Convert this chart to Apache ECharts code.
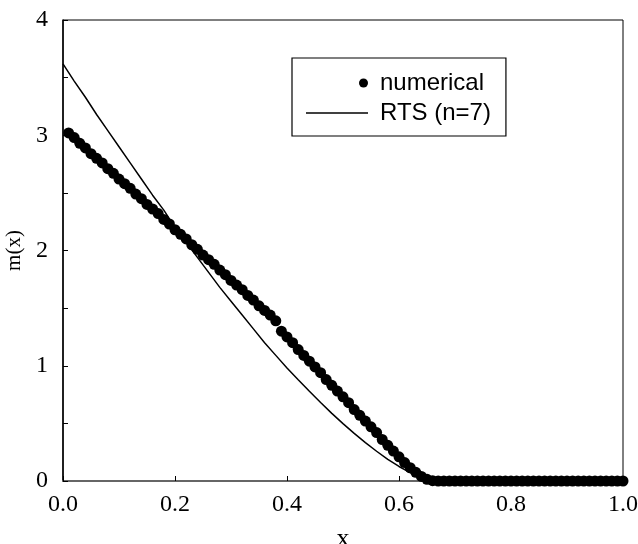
<!DOCTYPE html>
<html>
<head>
<meta charset="utf-8">
<script src="https://cdn.jsdelivr.net/npm/echarts@6/dist/echarts.min.js"></script>
<style>html,body{margin:0;padding:0;background:#fff}#c{width:638px;height:544px}</style>
</head>
<body>
<div id="c"></div>
<script>
// numerical solution (x = 0.01 ... 1.00)
var numX = [0.01,0.02,0.03,0.04,0.05,0.06,0.07,0.08,0.09,0.10,0.11,0.12,0.13,0.14,0.15,0.16,0.17,0.18,0.19,0.20,
0.21,0.22,0.23,0.24,0.25,0.26,0.27,0.28,0.29,0.30,0.31,0.32,0.33,0.34,0.35,0.36,0.37,0.38,0.39,0.40,
0.41,0.42,0.43,0.44,0.45,0.46,0.47,0.48,0.49,0.50,0.51,0.52,0.53,0.54,0.55,0.56,0.57,0.58,0.59,0.60,
0.61,0.62,0.63,0.64,0.65,0.66,0.67,0.68,0.69,0.70,0.71,0.72,0.73,0.74,0.75,0.76,0.77,0.78,0.79,0.80,
0.81,0.82,0.83,0.84,0.85,0.86,0.87,0.88,0.89,0.90,0.91,0.92,0.93,0.94,0.95,0.96,0.97,0.98,0.99,1.00];
var numY = [3.02,2.98,2.93,2.89,2.84,2.80,2.76,2.71,2.67,2.62,2.58,2.54,2.49,2.45,2.40,2.36,2.32,2.27,2.23,2.18,
2.14,2.10,2.05,2.01,1.96,1.92,1.88,1.83,1.79,1.74,1.70,1.66,1.61,1.57,1.52,1.48,1.44,1.39,1.30,1.25,
1.20,1.14,1.09,1.04,0.99,0.94,0.88,0.83,0.78,0.73,0.68,0.62,0.57,0.52,0.47,0.42,0.36,0.31,0.26,0.21,
0.16,0.115,0.075,0.04,0.015,0.003,0,0,0,0,0,0,0,0,0,0,0,0,0,0,
0,0,0,0,0,0,0,0,0,0,0,0,0,0,0,0,0,0,0,0];
// RTS (n=7) curve
var rtsX = [0,0.02,0.04,0.06,0.08,0.10,0.12,0.14,0.16,0.18,0.20,0.22,0.24,0.26,0.28,0.30,0.32,0.34,
0.36,0.38,0.40,0.42,0.44,0.46,0.48,0.50,0.52,0.54,0.56,0.58,0.60,0.62,0.64,0.66,1.00];
var rtsY = [3.62,3.47,3.33,3.18,3.04,2.90,2.76,2.62,2.48,2.35,2.20,2.07,1.94,1.81,1.68,1.56,1.44,1.32,
1.20,1.09,0.98,0.878,0.778,0.681,0.587,0.498,0.413,0.333,0.258,0.188,0.126,0.073,0.028,0,0];
var xTicks = [0.0,0.2,0.4,0.6,0.8,1.0];
var yTicks = [0,1,2,3,4];
var seriesNames = ['numerical','RTS (n=7)'];

function pairs(xs, ys){ return xs.map(function(x,i){ return [x, ys[i]]; }); }

var chart = echarts.init(document.getElementById('c'), null, {renderer:'canvas'});
var serif = 'Liberation Serif';
chart.setOption({
  animation:false,
  backgroundColor:'#fff',
  grid:{left:63, right:15, top:20, bottom:63, show:true, borderColor:'#000', borderWidth:1,
        containLabel:false, outerBoundsMode:'none'},
  legend:{
    orient:'vertical', left:292, top:58,
    padding:[13,15,11,14], itemGap:6,
    itemWidth:62, itemHeight:10,
    borderColor:'#000', borderWidth:1.2,
    backgroundColor:'#fff',
    textStyle:{fontFamily:'Liberation Sans', fontSize:24, color:'#000', padding:[0,0,0,7]},
    data:[
      {name:seriesNames[0], icon:'path://M0,5L0,5M53,5a4.5,4.5 0 1,0 9,0a4.5,4.5 0 1,0 -9,0z', itemStyle:{color:'#000', opacity:1}},
      {name:seriesNames[1], icon:'path://M0,0L62,0L62,1.5L0,1.5z', itemStyle:{color:'#000', opacity:1}}
    ]
  },
  xAxis:{
    type:'value', min:xTicks[0], max:xTicks[xTicks.length-1], interval:0.2,
    name:'x', nameLocation:'middle', nameGap:45,
    nameTextStyle:{fontFamily:serif, fontSize:26, color:'#000'},
    axisLine:{show:true, onZero:false, lineStyle:{color:'#666', width:2}},
    axisTick:{show:true, inside:true, length:5, lineStyle:{color:'#000'}},
    axisLabel:{margin:12, fontFamily:serif, fontSize:24, color:'#000', formatter:function(v){return v.toFixed(1);}},
    splitLine:{show:false}
  },
  yAxis:{
    type:'value', min:yTicks[0], max:yTicks[yTicks.length-1], interval:1,
    name:'m(x)', nameLocation:'middle', nameGap:31,
    nameTextStyle:{fontFamily:serif, fontSize:21, color:'#000'},
    axisLine:{show:true, onZero:false, lineStyle:{color:'#000', width:1.5}},
    axisTick:{show:true, inside:true, length:5, lineStyle:{color:'#000'}},
    minorTick:{show:true, splitNumber:2, length:5, lineStyle:{color:'#000'}},
    axisLabel:{margin:15, fontFamily:serif, fontSize:24, color:'#000'},
    splitLine:{show:false}
  },
  series:[
    {name:seriesNames[1], type:'line', data:pairs(rtsX, rtsY), symbol:'none', showSymbol:false,
     lineStyle:{color:'#000', width:1.5}, itemStyle:{color:'#000'}, z:2},
    {name:seriesNames[0], type:'scatter', data:pairs(numX, numY), symbol:'circle', symbolSize:11,
     itemStyle:{color:'#000', opacity:1}, z:3}
  ]
});
</script>
</body>
</html>
